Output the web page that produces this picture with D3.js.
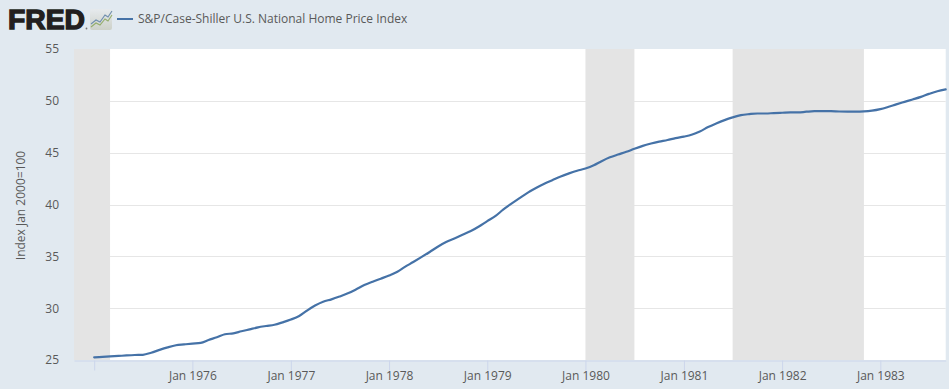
<!doctype html>
<html lang="en">
<head>
    <title>S&amp;P/Case-Shiller U.S. National Home Price Index</title>
    <script src="https://d3js.org/d3.v7.min.js"></script>
    <style>
    html, body { margin: 0; padding: 0; background: #e1e9f0; overflow: hidden; }
    text { font-family: "Open Sans", sans-serif; fill: #595959; }
    </style>
</head>

<body>
    <script>
        // Monthly index values, Jan 1975 - Sep 1983
        const startMonth = "1975-01";
        const values = [
            25.26, 25.30, 25.35, 25.39, 25.44, 25.48, 25.50, 25.70, 25.98, 26.22, 26.42, 26.50,
            26.58, 26.65, 26.93, 27.19, 27.48, 27.57, 27.77, 27.96, 28.15, 28.28, 28.40, 28.63,
            28.90, 29.25, 29.75, 30.25, 30.62, 30.85, 31.12, 31.43, 31.82, 32.23, 32.55, 32.84,
            33.15, 33.52, 33.98, 34.45, 34.92, 35.42, 35.93, 36.38, 36.73, 37.08, 37.44, 37.88,
            38.40, 38.90, 39.50, 40.08, 40.62, 41.15, 41.59, 42.00, 42.36, 42.70, 43.00, 43.26,
            43.47, 43.78, 44.18, 44.55, 44.82, 45.08, 45.38, 45.66, 45.88, 46.06, 46.22, 46.41,
            46.55, 46.75, 47.05, 47.47, 47.82, 48.14, 48.40, 48.62, 48.72, 48.78, 48.78, 48.82,
            48.85, 48.88, 48.88, 48.95, 49.00, 49.00, 49.00, 48.97, 48.96, 48.96, 48.98, 49.05,
            49.20, 49.43, 49.66, 49.90, 50.13, 50.38, 50.67, 50.93, 51.10
        ];
        const recessions = [["1973-11", "1975-03"], ["1980-01", "1980-07"], ["1981-07", "1982-11"]];
        const xTickMonths = ["1975-01", "1976-01", "1977-01", "1978-01", "1979-01", "1980-01", "1981-01", "1982-01", "1983-01"];
        const xTickLabels = ["", "Jan 1976", "Jan 1977", "Jan 1978", "Jan 1979", "Jan 1980", "Jan 1981", "Jan 1982", "Jan 1983"];
        const yTicks = [25, 30, 35, 40, 45, 50, 55];
        const seriesName = "S&P/Case-Shiller U.S. National Home Price Index";
        const yTitle = "Index Jan 2000=100";

        // Set Dimensions
        const width = 949;
        const height = 389;
        const plotLeft = 74, plotRight = 945.7, plotTop = 49, plotBottom = 360;
        const lineColor = "#4572a7";

        const parseMonth = d3.utcParse("%Y-%m");
        const start = parseMonth(startMonth);
        const data = values.map((v, i) => ({ date: d3.utcMonth.offset(start, i), value: v }));

        const x = d3.scaleUtc()
            .domain([new Date(Date.UTC(1974, 9, 18)), data[data.length - 1].date])
            .range([plotLeft, plotRight]);
        const y = d3.scaleLinear().domain([25, 55]).range([plotBottom, plotTop]);

        const svg = d3.select("body").append("svg")
            .attr("width", width)
            .attr("height", height)
            .style("display", "block");

        svg.append("clipPath").attr("id", "plot-clip")
            .append("rect")
            .attr("x", plotLeft).attr("y", plotTop)
            .attr("width", plotRight - plotLeft).attr("height", plotBottom - plotTop);

        // Plot background
        svg.append("rect")
            .attr("x", plotLeft).attr("y", plotTop)
            .attr("width", plotRight - plotLeft).attr("height", plotBottom - plotTop)
            .attr("fill", "#fff");

        // Y axis and grid
        const yAxis = svg.append("g")
            .attr("transform", `translate(${plotLeft},0)`)
            .call(d3.axisLeft(y).tickValues(yTicks).tickSize(0).tickPadding(15));
        yAxis.select(".domain").remove();
        yAxis.attr("font-family", null).attr("font-size", 12);

        svg.append("g").selectAll("line")
            .data(yTicks.filter(d => d > 25 && d < 55))
            .enter().append("line")
            .attr("x1", plotLeft).attr("x2", plotRight)
            .attr("y1", d => Math.round(y(d)) + 0.5).attr("y2", d => Math.round(y(d)) + 0.5)
            .attr("stroke", "#e6e6e6");

        // Recession bands
        svg.append("g").attr("clip-path", "url(#plot-clip)").selectAll("rect")
            .data(recessions)
            .enter().append("rect")
            .attr("x", d => x(parseMonth(d[0])))
            .attr("width", d => x(parseMonth(d[1])) - x(parseMonth(d[0])))
            .attr("y", plotTop)
            .attr("height", plotBottom - plotTop)
            .attr("fill", "#e4e4e4");

        // X axis
        const xAxis = svg.append("g")
            .attr("transform", `translate(0,${plotBottom + 0.5})`)
            .call(d3.axisBottom(x)
                .tickValues(xTickMonths.map(parseMonth))
                .tickFormat((d, i) => xTickLabels[i])
                .tickSize(10)
                .tickPadding(1)
                .tickSizeOuter(0));
        xAxis.attr("font-family", null).attr("font-size", 12);
        xAxis.select(".domain").attr("stroke", "#ccd6eb");
        xAxis.selectAll(".tick line").attr("stroke", "#ccd6eb");

        // Series line
        svg.append("path")
            .datum(data)
            .attr("fill", "none")
            .attr("stroke", lineColor)
            .attr("stroke-width", 2.2)
            .attr("stroke-linejoin", "round")
            .attr("stroke-linecap", "round")
            .attr("d", d3.line().curve(d3.curveMonotoneX).x(d => x(d.date)).y(d => y(d.value)));

        // Y axis title
        svg.append("text")
            .attr("transform", `translate(25,${(plotTop + plotBottom) / 2 + 1}) rotate(-90)`)
            .attr("text-anchor", "middle")
            .attr("font-size", 12)
            .text(yTitle);

        // Legend
        svg.append("line")
            .attr("x1", 117).attr("x2", 133)
            .attr("y1", 19).attr("y2", 19)
            .attr("stroke", lineColor).attr("stroke-width", 2);
        svg.append("text")
            .attr("x", 138).attr("y", 23)
            .attr("font-size", 12)
            .text(seriesName);

        // FRED logo
        const logo = svg.append("g");
        logo.append("text")
            .attr("x", 8).attr("y", 29)
            .attr("textLength", 77)
            .attr("lengthAdjust", "spacingAndGlyphs")
            .style("font-family", "'Liberation Sans', sans-serif")
            .style("font-weight", "bold")
            .style("font-size", "27px")
            .style("fill", "#231f20")
            .style("stroke", "#231f20")
            .style("stroke-width", "1.3px")
            .text("FRED");
        logo.append("circle").attr("cx", 86.5).attr("cy", 28.5).attr("r", 0.9).attr("fill", "#777");

        const grad = svg.append("linearGradient").attr("id", "logo-bg")
            .attr("x1", 0).attr("y1", 0).attr("x2", 0).attr("y2", 1);
        grad.append("stop").attr("offset", 0).attr("stop-color", "#e6eaed");
        grad.append("stop").attr("offset", 1).attr("stop-color", "#cdd1c9");
        logo.append("rect")
            .attr("x", 90).attr("y", 9).attr("width", 22).attr("height", 21).attr("rx", 2)
            .attr("fill", "url(#logo-bg)");
        logo.append("path")
            .attr("d", "M91 24 L96 20 L100 22 L105 15 L108 17 L112 11")
            .attr("fill", "none").attr("stroke", "#6f8eae").attr("stroke-width", 1.1);
        logo.append("path")
            .attr("d", "M91 27 L96 23 L100 25 L105 19 L108 21 L112 15")
            .attr("fill", "none").attr("stroke", "#94ad6c").attr("stroke-width", 1.1);
    </script>
</body>
</html>
